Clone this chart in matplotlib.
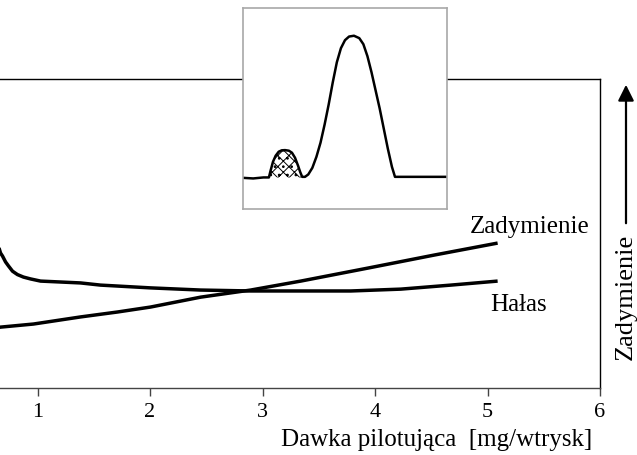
import numpy as np
import matplotlib
matplotlib.use("Agg")
import matplotlib.pyplot as plt
from matplotlib.patches import FancyArrowPatch

plt.rcParams["font.family"] = ["Liberation Serif", "DejaVu Serif"]
plt.rcParams["hatch.linewidth"] = 0.7

# main chart (arbitrary units on y)
dose_halas = [0.62, 0.671, 0.689, 0.716, 0.742, 0.778, 0.822, 0.875, 0.938, 1.027, 1.383, 1.56, 2.005, 2.45, 2.895, 3.34, 3.785, 4.23, 4.674, 5.09]
halas      = [5.00, 4.37, 4.27, 4.08, 3.95, 3.78, 3.67, 3.59, 3.53, 3.46, 3.40, 3.33, 3.24, 3.17, 3.14, 3.14, 3.14, 3.20, 3.33, 3.46]
dose_smoke = [0.62, 0.671, 0.964, 1.383, 1.712, 2.005, 2.45, 2.895, 3.34, 3.936, 4.523, 5.09]
smoke      = [1.94, 1.97, 2.07, 2.30, 2.46, 2.62, 2.94, 3.17, 3.46, 3.88, 4.30, 4.69]
xticks     = [1, 2, 3, 4, 5, 6]

# inset: injection rate trace (pilot + main)
trace_t = [0.0, 0.5, 1.0, 1.27, 1.35, 1.47, 1.6, 1.75, 1.9, 2.06, 2.25, 2.4, 2.55, 2.7, 2.8, 2.9,
           3.04, 3.2, 3.4, 3.6, 3.8, 4.0, 4.2, 4.4, 4.6, 4.8, 5.0, 5.2, 5.44, 5.7, 5.9, 6.1, 6.3,
           6.5, 6.7, 6.9, 7.1, 7.3, 7.45, 10.0]
trace_q = [1.55, 1.52, 1.57, 1.57, 1.9, 2.35, 2.65, 2.85, 2.92, 2.93, 2.9, 2.8, 2.55, 2.15, 1.85, 1.6,
           1.6, 1.72, 2.05, 2.6, 3.3, 4.2, 5.2, 6.3, 7.3, 8.0, 8.4, 8.58, 8.62, 8.5, 8.2, 7.6, 6.8,
           5.9, 5.0, 4.0, 3.0, 2.1, 1.6, 1.6]
pilot_t = [1.27, 1.35, 1.47, 1.6, 1.75, 1.9, 2.06, 2.25, 2.4, 2.55, 2.7, 2.8, 2.9]
pilot_q = [1.57, 1.9, 2.35, 2.65, 2.85, 2.92, 2.93, 2.9, 2.8, 2.55, 2.15, 1.85, 1.6]

W, H = 637, 455
fig = plt.figure(figsize=(W / 100, H / 100), dpi=100)

ax = fig.add_axes([-75 / W, (H - 388) / H, 675 / W, 309 / H])
ax.plot(dose_halas, halas, color="black", lw=2.5, solid_capstyle="butt")
ax.plot(dose_smoke, smoke, color="black", lw=2.5, solid_capstyle="butt")
ax.set_xlim(0, 6); ax.set_ylim(0, 10)
ax.set_xticks(xticks); ax.set_xticklabels([str(t) for t in xticks], fontsize=16)
ax.set_yticks([])
ax.tick_params(axis="x", direction="out", length=6, width=1, color="#444444", pad=5)
for s in ["top", "right", "bottom", "left"]:
    ax.spines[s].set_linewidth(1.0)
ax.spines["bottom"].set_color("#444444")

ax.text(5.377, 5.21, "Zadymienie", fontsize=18, ha="center", va="center")
ax.text(5.28, 2.69, "Hałas", fontsize=18, ha="center", va="center")

fig.text(592 / W, (H - 440) / H, "Dawka pilotująca  [mg/wtrysk]", fontsize=18, ha="right", va="center")

# y-axis label with arrow on the right
fig.text(626 / W, (H - 297) / H, "Zadymienie", fontsize=19, rotation=90, ha="center", va="center")
fig.add_artist(FancyArrowPatch((626 / W, (H - 226) / H), (626 / W, (H - 82) / H),
               transform=fig.transFigure, arrowstyle="-|>", mutation_scale=24, lw=1.6, color="black"))

# inset
ins = fig.add_axes([243 / W, (H - 209) / H, 204 / W, 201 / H])
ins.set_facecolor("white")
ins.fill_between(pilot_t, 1.57, pilot_q, facecolor="white", edgecolor="black", hatch="xxx..", lw=0)
ins.plot(trace_t, trace_q, color="black", lw=1.8)
ins.set_xlim(0, 10); ins.set_ylim(0, 10)
ins.set_xticks([]); ins.set_yticks([])
for s in ins.spines.values():
    s.set_color("#a8a8a8"); s.set_linewidth(1.2)

fig.savefig("out.png", dpi=100)
